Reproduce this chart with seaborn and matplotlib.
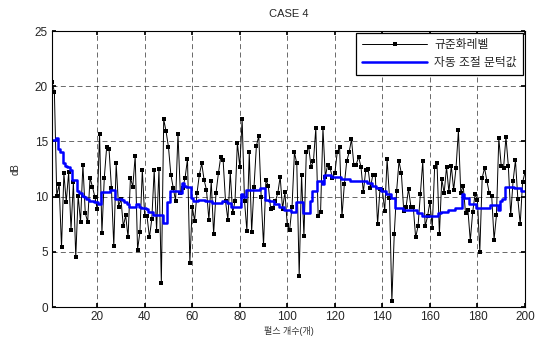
import numpy as np
import pandas as pd
import matplotlib
matplotlib.use("Agg")
import matplotlib.pyplot as plt
import seaborn as sns

title = "CASE 4"
x_label = "펄스 개수(개)"
y_label = "dB"
series_names = ["규준화레벨", "자동 조절 문턱값"]
x_ticks = [20, 40, 60, 80, 100, 120, 140, 160, 180, 200]
y_ticks = [0, 5, 10, 15, 20, 25]

level = [
    20.4, 19.5, 10.1, 11.1, 5.4, 12.1, 9.5, 12.2, 7.0, 11.3,
    4.5, 10.1, 7.7, 12.9, 8.5, 7.7, 11.7, 10.9, 10.0, 8.9,
    15.7, 6.7, 11.7, 14.5, 14.3, 10.8, 5.5, 13.0, 9.1, 9.8,
    7.3, 8.3, 6.3, 11.7, 10.9, 13.7, 5.2, 6.8, 12.4, 8.2,
    8.2, 6.3, 8.0, 12.4, 6.9, 12.5, 2.2, 17.0, 15.9, 14.5,
    12.0, 10.8, 9.6, 15.7, 10.3, 10.8, 11.7, 13.4, 4.0, 9.1,
    7.8, 10.3, 12.0, 13.0, 11.5, 10.6, 7.9, 11.4, 6.6, 10.3,
    12.1, 13.6, 13.3, 9.6, 7.9, 12.2, 8.5, 9.6, 14.9, 12.7,
    17.0, 9.6, 6.9, 14.0, 6.8, 10.9, 14.6, 15.5, 10.0, 5.6,
    11.5, 11.0, 8.9, 9.0, 9.6, 10.3, 11.8, 8.9, 10.4, 7.4,
    7.0, 9.1, 14.0, 13.0, 2.8, 12.0, 6.4, 14.0, 14.5, 12.7,
    13.2, 16.2, 8.2, 8.6, 16.2, 11.8, 12.9, 12.6, 11.7, 12.1,
    14.0, 14.5, 8.2, 11.1, 13.2, 14.0, 15.2, 12.9, 12.9, 13.6,
    12.7, 10.4, 12.4, 12.5, 10.8, 12.0, 12.0, 7.5, 10.7, 10.6,
    8.7, 13.4, 9.9, 0.5, 6.6, 10.5, 13.2, 12.1, 8.7, 9.1,
    10.7, 9.1, 9.1, 6.3, 7.3, 10.2, 13.2, 7.3, 8.2, 9.5,
    7.2, 12.7, 13.0, 6.6, 11.6, 10.3, 12.7, 10.4, 12.8, 10.6,
    12.6, 16.0, 10.3, 11.0, 8.5, 8.8, 6.0, 8.6, 10.2, 9.7,
    5.0, 11.7, 12.6, 11.4, 10.3, 10.1, 6.1, 8.3, 15.3, 12.8,
    12.6, 15.4, 12.8, 8.3, 11.4, 13.3, 9.8, 7.5, 11.3, 12.2,
]

threshold = [
    15.1, 15.1, 15.3, 14.3, 14.0, 13.0, 12.8, 12.7, 12.4, 11.5,
    11.5, 10.5, 10.3, 10.1, 10.0, 9.8, 9.6, 9.6, 9.5, 9.5,
    9.3, 10.4, 10.4, 10.4, 10.4, 10.6, 10.6, 9.8, 9.8, 9.8,
    9.7, 9.5, 9.3, 9.1, 9.1, 9.1, 9.3, 9.1, 9.0, 9.0,
    8.9, 8.6, 8.6, 8.3, 8.3, 8.3, 8.3, 7.6, 7.6, 9.5,
    10.5, 10.5, 10.5, 10.5, 10.3, 11.2, 11.0, 10.9, 10.9, 9.9,
    9.6, 9.6, 9.7, 9.7, 9.7, 9.6, 9.6, 9.6, 9.4, 9.4,
    9.4, 9.4, 9.6, 9.6, 9.4, 9.4, 9.1, 9.1, 9.1, 9.1,
    10.2, 10.0, 10.6, 10.6, 10.6, 10.6, 10.6, 10.6, 10.8, 10.8,
    9.7, 9.7, 9.6, 9.6, 9.3, 9.3, 9.1, 9.1, 8.8, 8.8,
    8.8, 8.6, 8.6, 9.5, 9.5, 9.5, 8.5, 8.5, 8.5, 9.6,
    10.5, 10.5, 11.4, 11.4, 11.1, 12.0, 12.0, 12.0, 11.8, 11.8,
    11.8, 11.8, 11.6, 11.6, 11.6, 11.6, 11.4, 11.4, 11.4, 11.4,
    11.4, 11.4, 11.4, 11.2, 11.2, 11.0, 11.0, 10.8, 10.8, 10.5,
    10.5, 10.2, 10.2, 9.9, 9.9, 9.0, 9.0, 9.0, 8.8, 8.8,
    8.8, 8.8, 8.8, 8.8, 8.5, 8.5, 8.2, 8.2, 8.2, 8.2,
    8.2, 8.2, 8.2, 8.5, 8.6, 8.6, 8.6, 8.8, 8.8, 8.8,
    9.0, 9.0, 9.0, 10.2, 9.9, 9.9, 9.3, 9.3, 9.3, 9.0,
    9.0, 9.0, 9.0, 9.0, 9.0, 9.2, 9.2, 9.2, 8.8, 9.6,
    9.8, 10.9, 10.9, 10.9, 10.9, 10.8, 10.8, 10.8, 10.5, 10.5,
]

pulse = np.arange(1, len(level) + 1)
df = pd.DataFrame({"pulse": pulse, "level": level, "threshold": threshold})

sns.set_theme(style="white")
plt.rcParams["font.family"] = ["Liberation Sans", "Noto Sans CJK KR", "DejaVu Sans"]

fig = plt.figure(figsize=(5.44, 3.42), dpi=100)
ax = fig.add_axes([0.0956, 0.1023, 0.8694, 0.8070])

sns.lineplot(data=df, x="pulse", y="level", ax=ax, color="black", linewidth=0.7,
             marker="s", markersize=2.2, markeredgewidth=0, estimator=None,
             label=series_names[0])
sns.lineplot(data=df, x="pulse", y="threshold", ax=ax, color="#0000ff", linewidth=1.8,
             drawstyle="steps-mid", estimator=None, label=series_names[1])

ax.set_xlim(1, 200)
ax.set_ylim(0, 25)
ax.set_xticks(x_ticks)
ax.set_yticks(y_ticks)
ax.tick_params(axis="both", labelsize=8.5, direction="in", length=3, color="black",
               left=True, bottom=True, top=True, right=True, pad=3)
ax.grid(True, color="#333333", linestyle=(0, (6, 4)), linewidth=0.6, alpha=0.85)
for s in ax.spines.values():
    s.set_color("black")
    s.set_linewidth(0.8)

ax.set_title(title, fontsize=8, pad=10)
ax.set_xlabel(x_label, fontsize=6.5, labelpad=2, color="#333333")
ax.set_ylabel(y_label, fontsize=7, labelpad=10)

leg = ax.legend(loc="upper right", fontsize=8.5, frameon=True, fancybox=False,
                borderaxespad=0.2, handlelength=5.5, borderpad=0.5, labelspacing=0.5,
                handletextpad=0.6)
leg.get_frame().set_edgecolor("black")
leg.get_frame().set_linewidth(0.9)
leg.get_frame().set_alpha(1)

fig.savefig("out.png", dpi=100)
